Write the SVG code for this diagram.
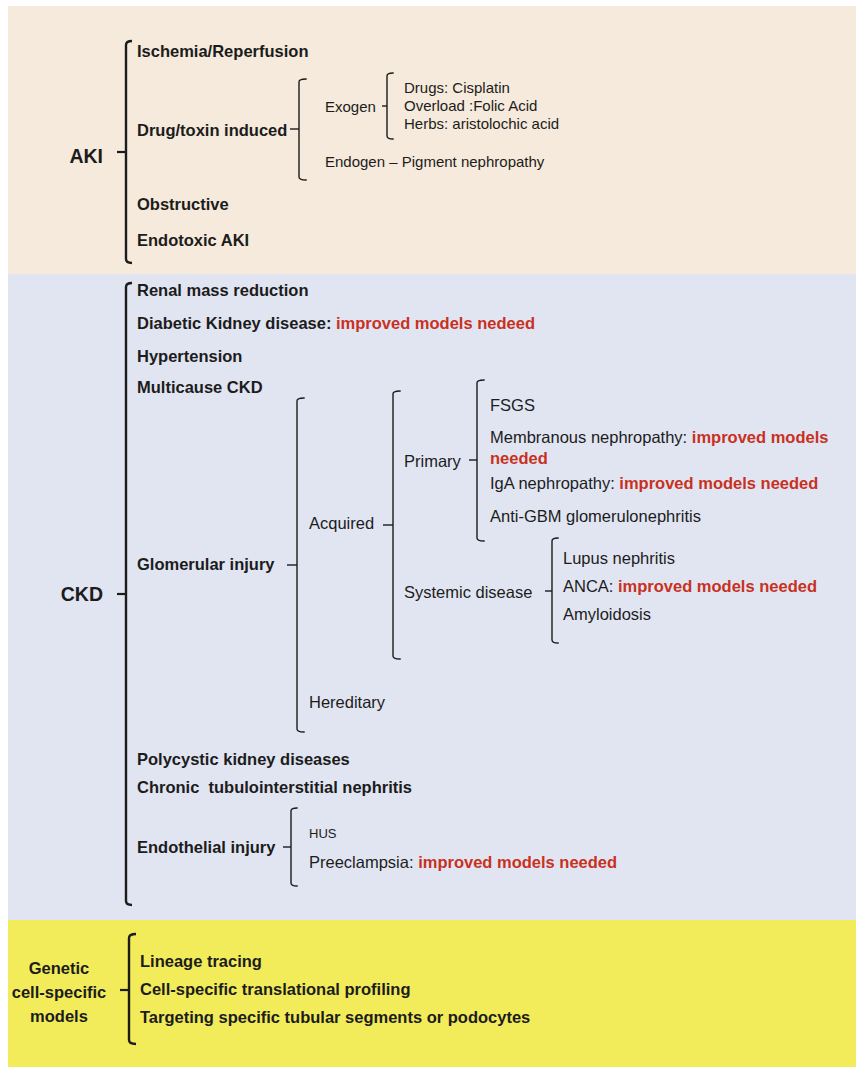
<svg xmlns="http://www.w3.org/2000/svg" width="856" height="1067" viewBox="0 0 856 1067">
<style>
text{font-family:"Liberation Sans",Arial,sans-serif;fill:#1c1c1c;}
.b{font-weight:bold;font-size:16.5px;}
.r{font-size:16.5px;}
.s{font-size:15px;}
.big{font-weight:bold;font-size:19.5px;}
.red{fill:#c8311f;font-weight:bold;}
.br{fill:none;stroke:#1c1c1c;stroke-width:1.4;stroke-linecap:square;}
.bm{fill:none;stroke:#1c1c1c;stroke-width:2.4;}
.tk{stroke:#1c1c1c;stroke-width:1.4;}
.tm{stroke:#1c1c1c;stroke-width:2.2;}
</style>
<rect x="0" y="0" width="856" height="1067" fill="#ffffff"/>
<g id="panels">
<rect x="8" y="6" width="848" height="268" fill="#f5eadb"/>
<rect x="8" y="274" width="848" height="646" fill="#e1e5f2"/>
<rect x="8" y="920" width="848" height="147" fill="#f2ec5a"/>
</g>
<g id="connectors">
<path class="bm" d="M132 41 Q126 41 126 45 L126 259 Q126 263 132 263"/>
<line class="tm" x1="117" y1="152" x2="126" y2="152"/>
<path class="br" d="M306 79 Q299 79 299 82 L299 177 Q299 180 306 180"/>
<line class="tk" x1="290" y1="129" x2="299" y2="129"/>
<path class="br" d="M393 73 Q387 73 387 76 L387 136 Q387 139 393 139"/>
<line class="tk" x1="382" y1="106" x2="387" y2="106"/>
<path class="bm" d="M132 283 Q126 283 126 287 L126 901 Q126 905 132 905"/>
<line class="tm" x1="117" y1="594" x2="126" y2="594"/>
<path class="br" d="M304 398 Q297 398 297 401 L297 729 Q297 732 304 732"/>
<line class="tk" x1="287" y1="565" x2="297" y2="565"/>
<path class="br" d="M400 391 Q393 391 393 394 L393 656 Q393 659 400 659"/>
<line class="tk" x1="383" y1="525" x2="393" y2="525"/>
<path class="br" d="M484 380 Q477 380 477 383 L477 538 Q477 541 484 541"/>
<line class="tk" x1="469" y1="460" x2="477" y2="460"/>
<path class="br" d="M558 538 Q552 538 552 541 L552 640 Q552 643 558 643"/>
<line class="tk" x1="545" y1="591" x2="552" y2="591"/>
<path class="br" d="M297 808 Q291 808 291 811 L291 883 Q291 886 297 886"/>
<line class="tk" x1="283" y1="847" x2="291" y2="847"/>
<path class="bm" d="M136 934 Q129 934 129 938 L129 1040 Q129 1044 136 1044"/>
<line class="tm" x1="120" y1="990" x2="129" y2="990"/>
</g>
<g id="aki">
<text class="big" x="103" y="163" text-anchor="end">AKI</text>
</g>
<g id="aki-ischemia"><text class="b" x="137" y="57">Ischemia/Reperfusion</text></g>
<g id="aki-drug"><text class="b" x="137" y="136">Drug/toxin induced</text></g>
<g id="aki-exogen"><text class="s" x="325" y="112">Exogen</text></g>
<g id="aki-exogen-items">
<text class="s" x="404" y="93">Drugs: Cisplatin</text>
<text class="s" x="404" y="111">Overload :Folic Acid</text>
<text class="s" x="404" y="129">Herbs: aristolochic acid</text>
</g>
<g id="aki-endogen"><text class="s" x="325" y="167">Endogen – Pigment nephropathy</text></g>
<g id="aki-obstructive"><text class="b" x="137" y="210">Obstructive</text></g>
<g id="aki-endotoxic"><text class="b" x="137" y="246">Endotoxic AKI</text></g>

<g id="ckd"><text class="big" x="103" y="601" text-anchor="end">CKD</text></g>
<g id="ckd-renal"><text class="b" x="137" y="296">Renal mass reduction</text></g>
<g id="ckd-diabetic"><text class="b" x="137" y="329">Diabetic Kidney disease: <tspan class="red">improved models nedeed</tspan></text></g>
<g id="ckd-hypertension"><text class="b" x="137" y="362">Hypertension</text></g>
<g id="ckd-multicause"><text class="b" x="137" y="393">Multicause CKD</text></g>
<g id="ckd-glomerular"><text class="b" x="137" y="570">Glomerular injury</text></g>
<g id="ckd-acquired"><text class="r" x="309" y="529">Acquired</text></g>
<g id="ckd-primary"><text class="r" x="404" y="467">Primary</text></g>
<g id="ckd-fsgs"><text class="r" x="490" y="411">FSGS</text></g>
<g id="ckd-membranous"><text class="r" x="490" y="443">Membranous nephropathy: <tspan class="red">improved models</tspan></text><text class="r red" x="490" y="464">needed</text></g>
<g id="ckd-iga"><text class="r" x="490" y="489">IgA nephropathy: <tspan class="red">improved models needed</tspan></text></g>
<g id="ckd-antigbm"><text class="r" x="490" y="522">Anti-GBM glomerulonephritis</text></g>
<g id="ckd-systemic"><text class="r" x="404" y="598">Systemic disease</text></g>
<g id="ckd-lupus"><text class="r" x="563" y="564">Lupus nephritis</text></g>
<g id="ckd-anca"><text class="r" x="563" y="592">ANCA: <tspan class="red">improved models needed</tspan></text></g>
<g id="ckd-amyloidosis"><text class="r" x="563" y="620">Amyloidosis</text></g>
<g id="ckd-hereditary"><text class="r" x="309" y="708">Hereditary</text></g>
<g id="ckd-polycystic"><text class="b" x="137" y="765">Polycystic kidney diseases</text></g>
<g id="ckd-chronic"><text class="b" x="137" y="793" xml:space="preserve">Chronic  tubulointerstitial nephritis</text></g>
<g id="ckd-endothelial"><text class="b" x="137" y="853">Endothelial injury</text></g>
<g id="ckd-hus"><text x="309" y="838" style="font-size:13px">HUS</text></g>
<g id="ckd-preeclampsia"><text class="r" x="309" y="868">Preeclampsia: <tspan class="red">improved models needed</tspan></text></g>

<g id="genetic">
<text class="b" x="59" y="974" text-anchor="middle">Genetic</text>
<text class="b" x="59" y="998" text-anchor="middle">cell-specific</text>
<text class="b" x="59" y="1022" text-anchor="middle">models</text>
</g>
<g id="gen-lineage"><text class="b" x="140" y="967">Lineage tracing</text></g>
<g id="gen-profiling"><text class="b" x="140" y="995">Cell-specific translational profiling</text></g>
<g id="gen-targeting"><text class="b" x="140" y="1023">Targeting specific tubular segments or podocytes</text></g>
</svg>
